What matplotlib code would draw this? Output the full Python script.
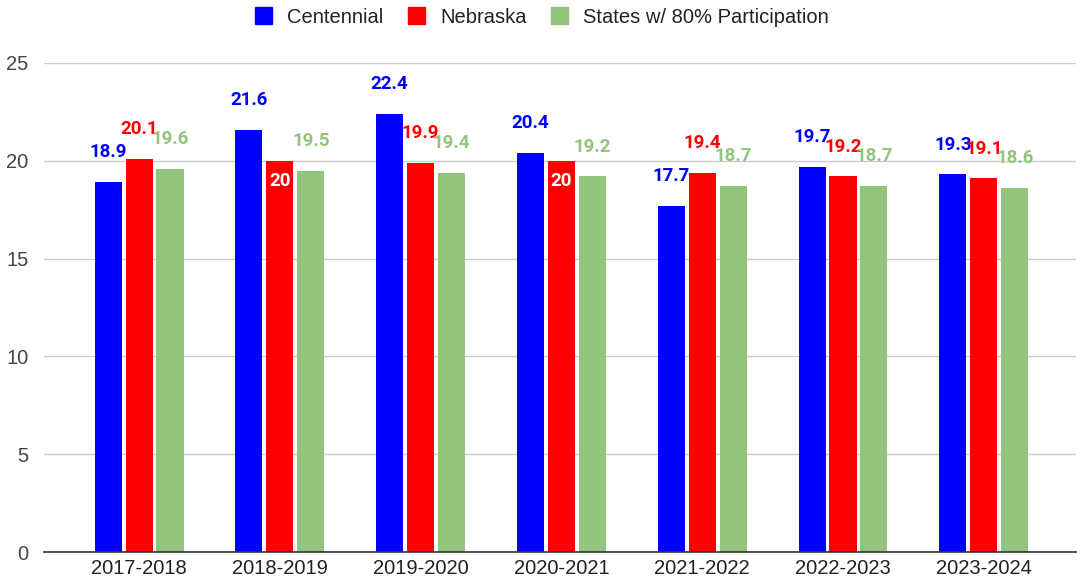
import matplotlib
matplotlib.use("Agg")
import matplotlib.pyplot as plt
import numpy as np
from matplotlib.patches import Patch

categories = ["2017-2018", "2018-2019", "2019-2020", "2020-2021", "2021-2022", "2022-2023", "2023-2024"]
centennial = [18.9, 21.6, 22.4, 20.4, 17.7, 19.7, 19.3]
nebraska = [20.1, 20.0, 19.9, 20.0, 19.4, 19.2, 19.1]
states80 = [19.6, 19.5, 19.4, 19.2, 18.7, 18.7, 18.6]
series_names = ["Centennial", "Nebraska", "States w/ 80% Participation"]
colors = ["#0000ff", "#ff0000", "#93c47d"]
yticks = [0, 5, 10, 15, 20, 25]

# labels drawn inside bar (series index, category index)
inside_labels = {(1, 1), (1, 3)}

def fmt(v):
    return f"{v:g}"

fig = plt.figure(figsize=(10.84, 5.85), dpi=100)
ax = fig.add_axes([44/1084, (585-552)/585, (1076-44)/1084, (552-63)/585])

x = np.arange(len(categories))
width = 0.192
offset = 0.22
all_series = [centennial, nebraska, states80]
for si, (vals, col) in enumerate(zip(all_series, colors)):
    xs = x + (si - 1) * offset
    ax.bar(xs, vals, width=width, color=col, zorder=3, label=series_names[si])
    for ci, (xx, v) in enumerate(zip(xs, vals)):
        if (si, ci) in inside_labels:
            ax.annotate(fmt(v), (xx, v), xytext=(0, -14.5), textcoords="offset points",
                        ha="center", va="center", color="white", fontsize=13.5,
                        fontweight="bold", family="Roboto", zorder=5)
        else:
            ax.annotate(fmt(v), (xx, v), xytext=(0, 21.5), textcoords="offset points",
                        ha="center", va="center", color=col, fontsize=13.5,
                        fontweight="bold", family="Roboto", zorder=5)

ax.set_xlim(-0.675, 6.655)
ax.set_ylim(0, 25)
ax.set_yticks(yticks)
ax.set_yticklabels([str(t) for t in yticks], family="Liberation Sans", fontsize=14.5, color="#444444")
ax.set_xticks(x)
ax.set_xticklabels(categories, family="Liberation Sans", fontsize=14.5, color="#222222")
ax.tick_params(axis="both", length=0)
ax.tick_params(axis="y", pad=11)
ax.tick_params(axis="x", pad=5)
for s in ["top", "right", "left"]:
    ax.spines[s].set_visible(False)
ax.spines["bottom"].set_color("#333333")
ax.spines["bottom"].set_linewidth(1.2)
ax.spines["bottom"].set_zorder(4)
ax.grid(axis="y", color="#cccccc", linewidth=1, zorder=0)
ax.set_axisbelow(True)

handles = [Patch(facecolor=c, edgecolor=c) for c in colors]
fig.legend(handles, series_names, loc="center", bbox_to_anchor=(0.5, 1 - 17/585),
           ncol=3, frameon=False, prop={"family": "Liberation Sans", "size": 14.5},
           handlelength=0.85, handleheight=0.85, handletextpad=0.75, columnspacing=1.2,
           labelcolor="#222222")

fig.savefig("out.png", dpi=100)
